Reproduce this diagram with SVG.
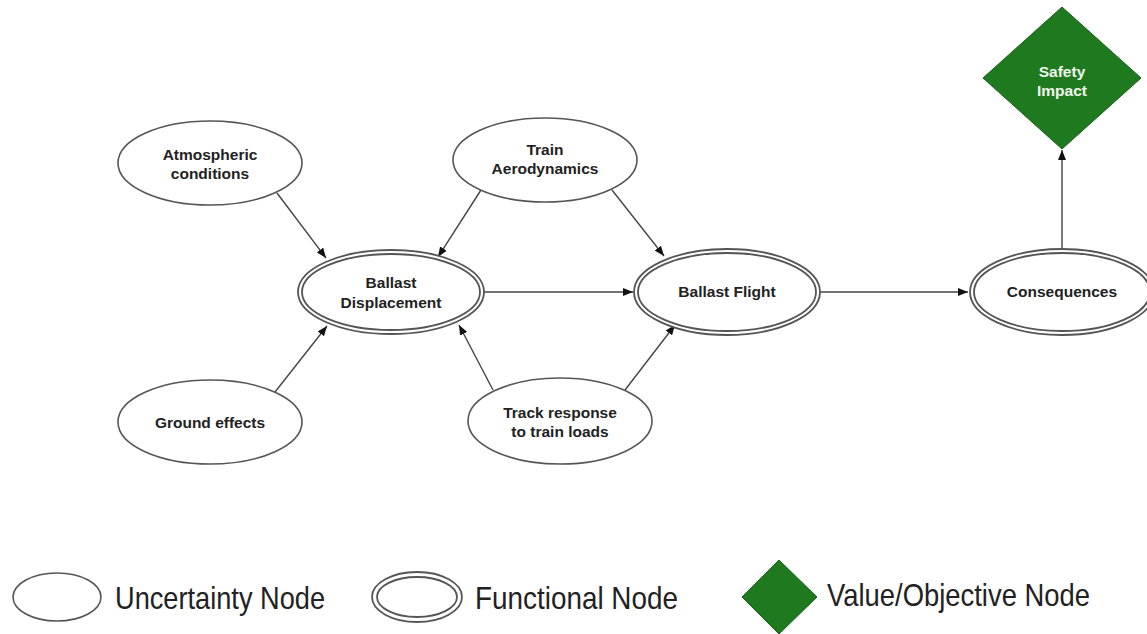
<svg xmlns="http://www.w3.org/2000/svg" width="1147" height="634" viewBox="0 0 1147 634">
<defs>
<marker id="ah" viewBox="0 0 10 8" refX="10" refY="4" markerWidth="10" markerHeight="8" markerUnits="userSpaceOnUse" orient="auto">
<path d="M0,0 L10,4 L0,8 z" fill="#111"/>
</marker>
</defs>
<style>
.u{fill:#fff;stroke:#555;stroke-width:1.6}
.fo{fill:#fff;stroke:#555;stroke-width:1.8}
.fi{fill:none;stroke:#555;stroke-width:1.8}
.t{font-family:"Liberation Sans",Arial,sans-serif;font-weight:bold;font-size:15.5px;fill:#222;text-anchor:middle}
.w{fill:#f0f8ec}
.c line{stroke:#444;stroke-width:1.4;marker-end:url(#ah)}
.v{fill:#1f7a1f;stroke:#186018;stroke-width:1}
.lg{font-family:"Liberation Sans",Arial,sans-serif;font-size:32px;fill:#222}
</style>
<rect width="1147" height="634" fill="#fff"/>
<g class="c" id="connectors">
<line x1="277" y1="193" x2="326" y2="258"/>
<line x1="481" y1="190" x2="438" y2="257"/>
<line x1="612" y1="190" x2="664" y2="256"/>
<line x1="484" y1="292" x2="633" y2="292"/>
<line x1="275" y1="392" x2="327" y2="326"/>
<line x1="493" y1="390" x2="459" y2="325"/>
<line x1="625" y1="390" x2="675" y2="325"/>
<line x1="820" y1="292" x2="968" y2="292"/>
<line x1="1062" y1="248" x2="1062" y2="150"/>
</g>
<g id="atmospheric">
<ellipse class="u" cx="210" cy="163" rx="92" ry="42"/>
<text class="t" x="210" y="160">Atmospheric</text>
<text class="t" x="210" y="179">conditions</text>
</g>
<g id="train-aero">
<ellipse class="u" cx="545" cy="160" rx="92" ry="42"/>
<text class="t" x="545" y="155">Train</text>
<text class="t" x="545" y="174">Aerodynamics</text>
</g>
<g id="ground">
<ellipse class="u" cx="210" cy="422" rx="92" ry="42"/>
<text class="t" x="210" y="428">Ground effects</text>
</g>
<g id="track">
<ellipse class="u" cx="560" cy="421" rx="92" ry="43"/>
<text class="t" x="560" y="418">Track response</text>
<text class="t" x="560" y="437">to train loads</text>
</g>
<g id="ballast-displacement">
<ellipse class="fo" cx="391" cy="292" rx="93" ry="42"/>
<ellipse class="fi" cx="391" cy="292" rx="89" ry="38"/>
<text class="t" x="391" y="288">Ballast</text>
<text class="t" x="391" y="308">Displacement</text>
</g>
<g id="ballast-flight">
<ellipse class="fo" cx="727" cy="292" rx="93" ry="43"/>
<ellipse class="fi" cx="727" cy="292" rx="89" ry="39"/>
<text class="t" x="727" y="297">Ballast Flight</text>
</g>
<g id="consequences">
<ellipse class="fo" cx="1062" cy="292" rx="92" ry="43"/>
<ellipse class="fi" cx="1062" cy="292" rx="88" ry="39"/>
<text class="t" x="1062" y="297">Consequences</text>
</g>
<g id="safety-impact">
<polygon class="v" points="1062,7 1141,78 1062,149 983,78"/>
<text class="t w" x="1062" y="77">Safety</text>
<text class="t w" x="1062" y="96">Impact</text>
</g>
<g id="legend">
<ellipse class="u" cx="57" cy="597" rx="44" ry="24"/>
<text class="lg" x="115" y="609" textLength="210" lengthAdjust="spacingAndGlyphs">Uncertainty Node</text>
<ellipse class="fo" cx="417" cy="597" rx="45" ry="25"/>
<ellipse class="fi" cx="417" cy="597" rx="40" ry="20"/>
<text class="lg" x="475" y="609" textLength="203" lengthAdjust="spacingAndGlyphs">Functional Node</text>
<polygon class="v" points="779,560 817,597 779,634 742,597"/>
<text class="lg" x="827" y="606" textLength="263" lengthAdjust="spacingAndGlyphs">Value/Objective Node</text>
</g>
</svg>
